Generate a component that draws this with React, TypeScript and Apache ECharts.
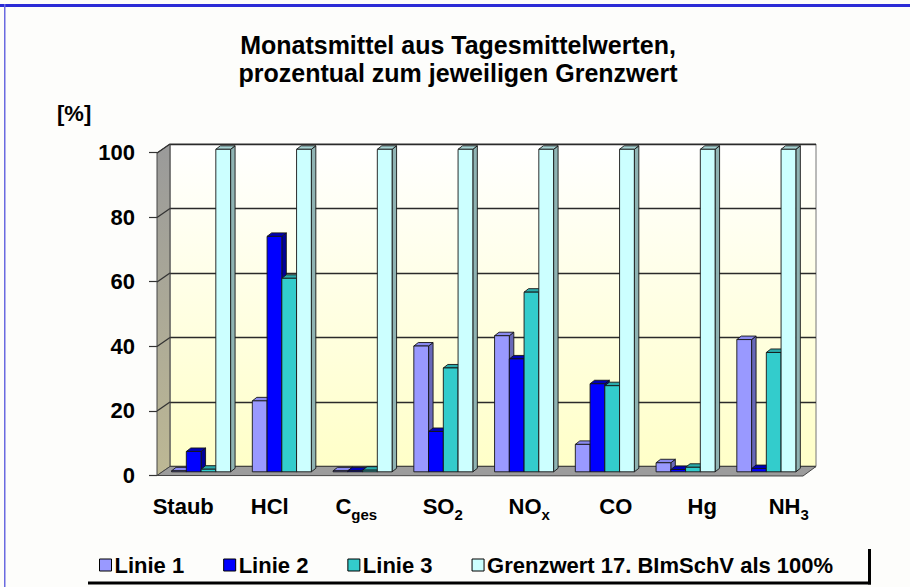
import React, { useEffect, useRef } from "react";
import * as echarts from "echarts";

const categories = ["Staub", "HCl", "Cges", "SO2", "NOx", "CO", "Hg", "NH3"];
const catMain = ["Staub", "HCl", "C", "SO", "NO", "CO", "Hg", "NH"];
const catSub = ["", "", "ges", "2", "x", "", "", "3"];

const linie1 = [0.3, 22, 0.3, 39, 42.2, 8.5, 2.8, 41];
const linie2 = [6.3, 73, 0.3, 12.5, 35, 27.3, 0.7, 1];
const linie3 = [0.8, 60, 0.5, 32.2, 55.7, 26.7, 1.4, 37];
const grenzwert = [100, 100, 100, 100, 100, 100, 100, 100];

const yTicks = [0, 20, 40, 60, 80, 100];

const seriesNames = ["Linie 1", "Linie 2", "Linie 3", "Grenzwert 17. BImSchV als 100%"];
const seriesValues = [linie1, linie2, linie3, grenzwert];

const FONT = "'Liberation Sans', Arial, Helvetica, sans-serif";

const palette = [
  { front: "#9999ff", side: "#6868b8", top: "#8a8af0" },
  { front: "#0000ff", side: "#00009a", top: "#0000b8" },
  { front: "#33cccc", side: "#228e8e", top: "#2aabab" },
  { front: "#ccffff", side: "#8fb3b3", top: "#a6d2d2" },
];

const BAR_DX = -9.3;
const BAR_DY = 5.3;
const DEPTH_X = 4.5;
const DEPTH_Y = 3.5;
const WALL_DX = 13;
const WALL_DY = 9;

export default function App() {
  const ref = useRef<HTMLDivElement>(null);

  useEffect(() => {
    if (!ref.current) return;
    const chart = echarts.init(ref.current, null, { renderer: "svg" });

    const makeBar = (k: number) => (params: any, api: any) => {
      const cat = api.value(0);
      const val = api.value(1);
      const pTop = api.coord([cat, val]);
      const pBase = api.coord([cat, 0]);
      const band = api.size([1, 0])[0];
      const w = band * 0.1827;
      const x = pTop[0] + BAR_DX + (k - 2) * w;
      const y1 = pTop[1] + BAR_DY;
      const y0 = pBase[1] + BAR_DY;
      const c = palette[k];
      const stroke = "#151515";
      const lw = 0.9;
      return {
        type: "group",
        children: [
          {
            type: "polygon",
            shape: {
              points: [
                [x + w, y1],
                [x + w + DEPTH_X, y1 - DEPTH_Y],
                [x + w + DEPTH_X, y0 - DEPTH_Y],
                [x + w, y0],
              ],
            },
            style: { fill: c.side, stroke, lineWidth: lw },
          },
          {
            type: "polygon",
            shape: {
              points: [
                [x, y1],
                [x + DEPTH_X, y1 - DEPTH_Y],
                [x + w + DEPTH_X, y1 - DEPTH_Y],
                [x + w, y1],
              ],
            },
            style: { fill: c.top, stroke, lineWidth: lw },
          },
          {
            type: "rect",
            shape: { x, y: y1, width: w, height: Math.max(0, y0 - y1) },
            style: { fill: c.front, stroke, lineWidth: lw },
          },
        ],
      };
    };

    const wallRender = (params: any, api: any) => {
      const cs = params.coordSys;
      const gx = cs.x;
      const gy = cs.y;
      const gw = cs.width;
      const gh = cs.height;
      const yb = gy + gh;
      const children: any[] = [
        {
          type: "polygon",
          shape: {
            points: [
              [gx, gy],
              [gx - WALL_DX, gy + WALL_DY],
              [gx - WALL_DX, yb + WALL_DY],
              [gx, yb],
            ],
          },
          style: {
            fill: new echarts.graphic.LinearGradient(0, 0, 0, 1, [
              { offset: 0, color: "#9a9a9a" },
              { offset: 1, color: "#bdb894" },
            ]),
            stroke: "#444",
            lineWidth: 1,
          },
        },
        {
          type: "polygon",
          shape: {
            points: [
              [gx, yb],
              [gx + gw, yb],
              [gx + gw - WALL_DX, yb + WALL_DY + 0.5],
              [gx - WALL_DX, yb + WALL_DY],
            ],
          },
          style: { fill: "#9c9c9c", stroke: "#444", lineWidth: 1 },
        },
      ];
      yTicks.forEach((t) => {
        if (t === 0) return;
        const p = api.coord([0, t]);
        children.push({
          type: "line",
          shape: { x1: gx, y1: p[1], x2: gx - WALL_DX, y2: p[1] + WALL_DY },
          style: { stroke: "#333", lineWidth: 1.3 },
        });
      });
      return { type: "group", children };
    };

    const option: any = {
      animation: false,
      backgroundColor: "#fdfdfb",
      textStyle: { fontFamily: FONT },
      title: {
        text: "Monatsmittel aus Tagesmittelwerten,\nprozentual zum jeweiligen Grenzwert",
        left: 453,
        top: 26,
        textAlign: "center",
        textStyle: {
          fontFamily: FONT,
          fontSize: 25,
          fontWeight: "bold",
          color: "#000",
          lineHeight: 28,
        },
      },
      legend: {
        left: 94,
        top: 549,
        icon: "rect",
        itemWidth: 12,
        itemHeight: 12,
        itemGap: 39,
        selectedMode: false,
        textStyle: { fontFamily: FONT, fontSize: 22, fontWeight: "bold", color: "#000", padding: [0, 0, 0, -2] },
        data: seriesNames.map((n, k) => ({
          name: n,
          itemStyle: { color: palette[k].front, borderColor: "#000", borderWidth: 1 },
        })),
      },
      grid: [
        {
          left: 170,
          right: 94,
          top: 144,
          bottom: 120.5,
          show: true,
          backgroundColor: new echarts.graphic.LinearGradient(0, 0, 0, 1, [
            { offset: 0, color: "#ffffff" },
            { offset: 1, color: "#ffffc8" },
          ]),
          borderColor: "#777",
          borderWidth: 1,
        },
        { left: 157, right: 107, top: 152.5, bottom: 111.5, show: false },
        { left: 140, right: 78, top: 152.5, bottom: 111.5, show: false },
      ],
      xAxis: [
        {
          gridIndex: 0,
          type: "category",
          data: categories,
          boundaryGap: true,
          axisLine: { show: false },
          axisTick: { show: false },
          axisLabel: { show: false },
        },
        { gridIndex: 1, type: "category", data: categories, show: false },
        {
          gridIndex: 2,
          type: "category",
          data: categories,
          axisLine: { show: false },
          axisTick: { show: false },
          axisLabel: {
            margin: 18,
            interval: 0,
            formatter: (_v: string, i: number) =>
              catSub[i] ? `{m|${catMain[i]}}{s|${catSub[i]}}` : `{m|${catMain[i]}}`,
            rich: {
              m: { fontFamily: FONT, fontSize: 22, fontWeight: "bold", color: "#000", lineHeight: 26 },
              s: {
                fontFamily: FONT,
                fontSize: 15,
                fontWeight: "bold",
                color: "#000",
                lineHeight: 15,
                padding: [13, 0, 0, 0],
                verticalAlign: "top",
              },
            },
          },
        },
      ],
      yAxis: [
        {
          gridIndex: 0,
          type: "value",
          min: 0,
          max: 100,
          interval: 20,
          axisLine: { show: false },
          axisTick: { show: false },
          axisLabel: { show: false },
          splitLine: { show: true, lineStyle: { color: "#2a2a2a", width: 1.3 } },
        },
        {
          gridIndex: 1,
          type: "value",
          min: 0,
          max: 100,
          interval: 20,
          axisLine: { show: true, lineStyle: { color: "#333", width: 1 } },
          axisTick: { show: true, length: 8, lineStyle: { color: "#333", width: 1.2 } },
          axisLabel: {
            margin: 22,
            fontFamily: FONT,
            fontSize: 22,
            fontWeight: "bold",
            color: "#000",
          },
          splitLine: { show: false },
        },
        { gridIndex: 2, type: "value", min: 0, max: 100, show: false },
      ],
      graphic: [
        {
          type: "text",
          left: 57,
          top: 102,
          style: { text: "[%]", font: `bold 22px ${FONT}`, fill: "#000" },
        },
        {
          type: "rect",
          shape: { x: 0, y: 4, width: 910, height: 3 },
          style: { fill: "#2b2bd6" },
        },
        {
          type: "rect",
          shape: { x: 4, y: 4, width: 1.5, height: 583 },
          style: { fill: "#6a6ae0" },
        },
        {
          type: "rect",
          shape: { x: 88, y: 581.5, width: 783, height: 3 },
          style: { fill: "#000" },
        },
        {
          type: "rect",
          shape: { x: 868, y: 549, width: 3, height: 35.5 },
          style: { fill: "#000" },
        },
      ],
      series: [
        {
          type: "custom",
          name: "__walls",
          xAxisIndex: 0,
          yAxisIndex: 0,
          z: 1,
          silent: true,
          renderItem: wallRender,
          data: [[0, 0]],
          encode: { x: 0, y: 1 },
        },
        ...seriesNames.map((n, k) => ({
          type: "custom",
          name: n,
          xAxisIndex: 0,
          yAxisIndex: 0,
          z: 2,
          renderItem: makeBar(k),
          itemStyle: { color: palette[k].front },
          encode: { x: 0, y: 1 },
          data: seriesValues[k].map((v, i) => [i, v]),
        })),
      ],
    };

    chart.setOption(option);
    return () => chart.dispose();
  }, []);

  return (
    <div
      ref={ref}
      style={{ position: "absolute", left: 0, top: 0, width: 910, height: 587 }}
    />
  );
}
